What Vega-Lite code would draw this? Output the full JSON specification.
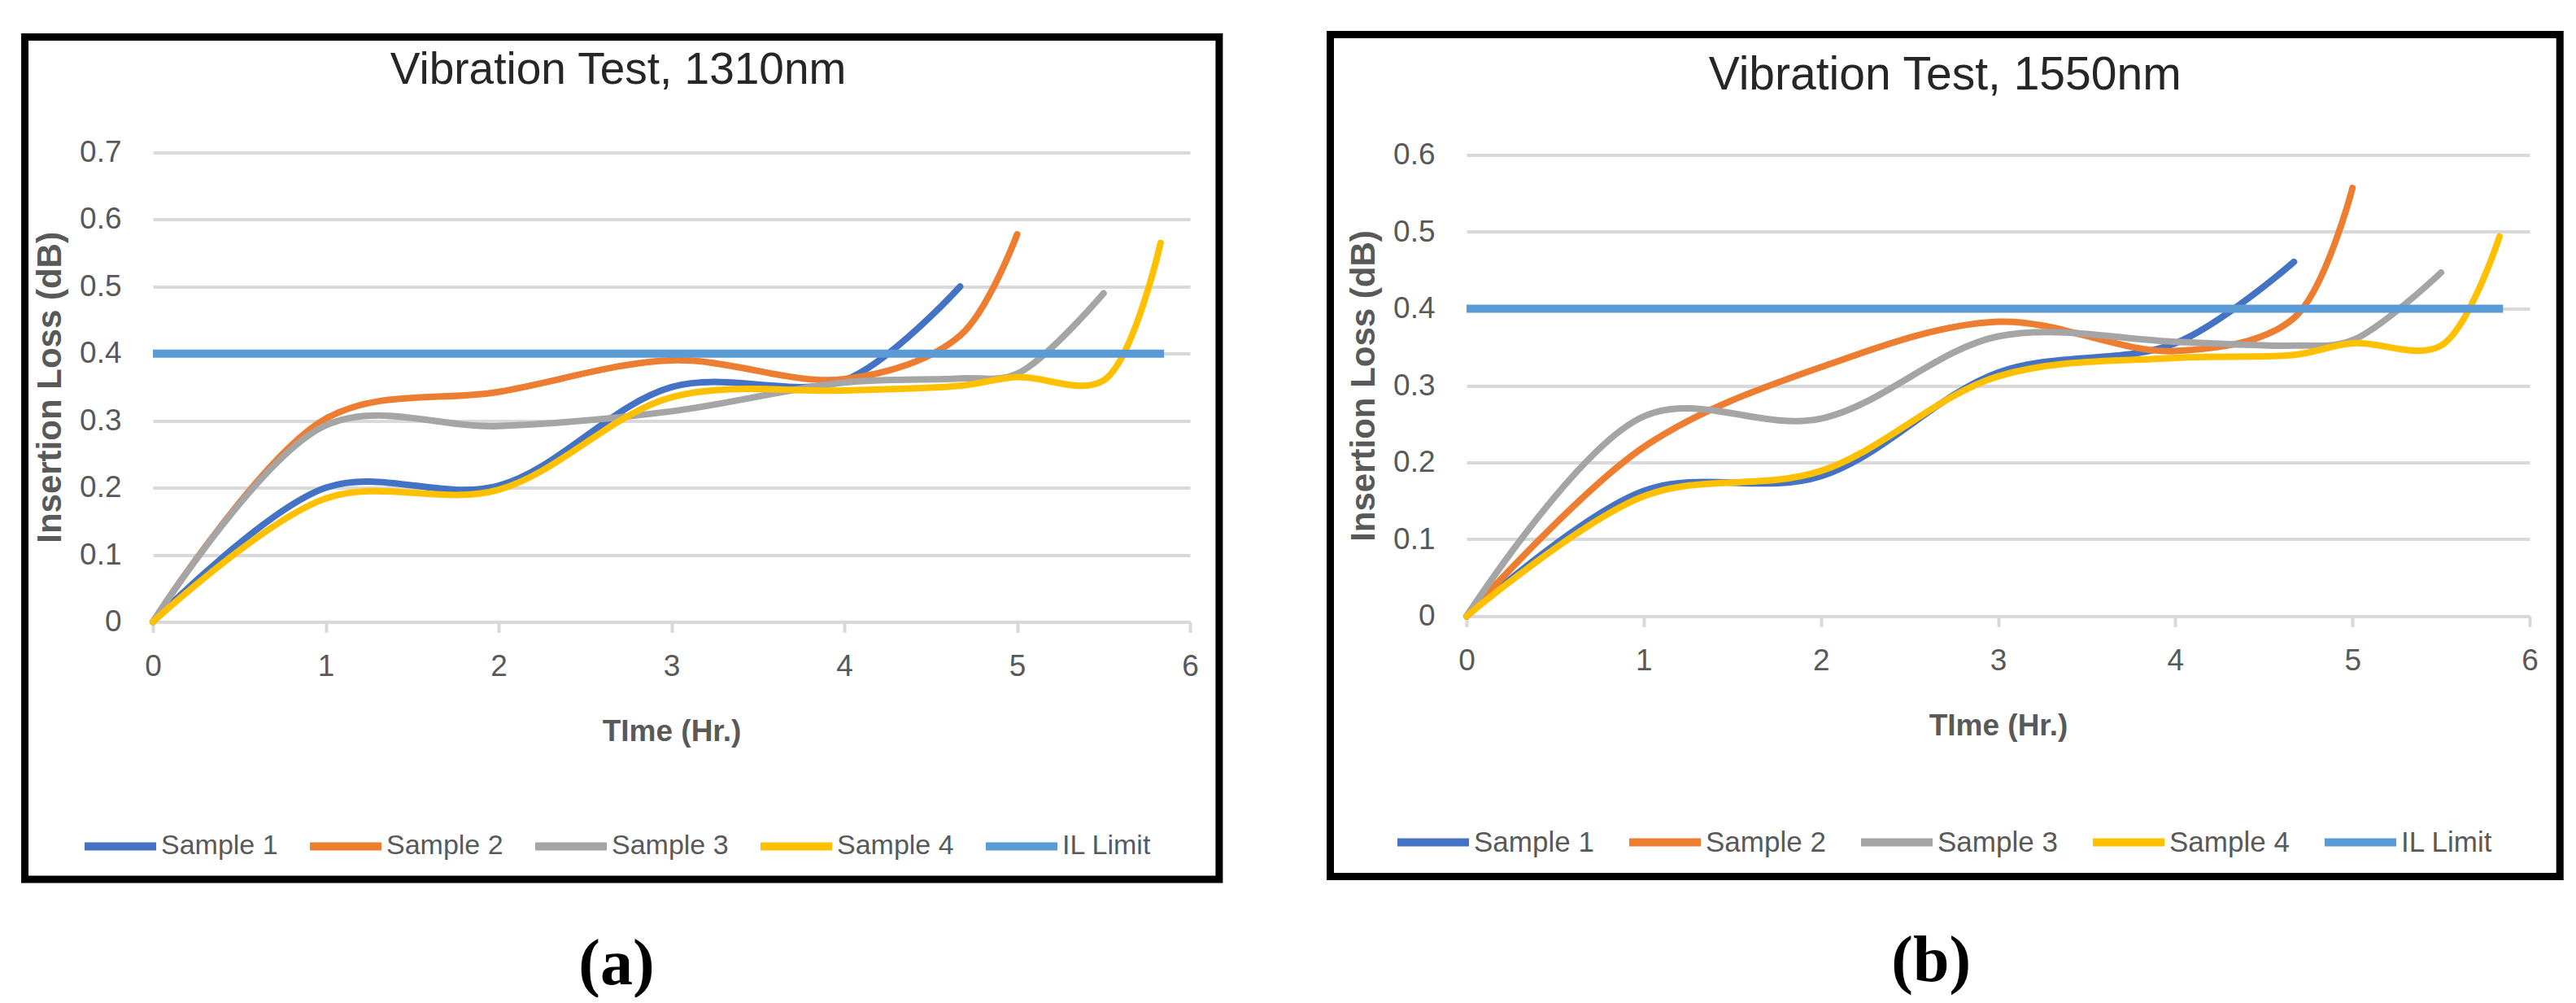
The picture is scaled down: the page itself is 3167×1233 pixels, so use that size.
{
  "$schema": "https://vega.github.io/schema/vega-lite/v6.json",
  "background": "white",
  "padding": {"left": 26, "top": 38, "right": 0, "bottom": 0},
  "datasets": {
    "s1310": [
      {"series": "Sample 1", "t": 0, "v": 0}, {"series": "Sample 1", "t": 1, "v": 0.2}, {"series": "Sample 1", "t": 2, "v": 0.203}, {"series": "Sample 1", "t": 3, "v": 0.35}, {"series": "Sample 1", "t": 4, "v": 0.36}, {"series": "Sample 1", "t": 4.67, "v": 0.5},
      {"series": "Sample 2", "t": 0, "v": 0}, {"series": "Sample 2", "t": 1, "v": 0.303}, {"series": "Sample 2", "t": 2, "v": 0.343}, {"series": "Sample 2", "t": 3, "v": 0.39}, {"series": "Sample 2", "t": 4, "v": 0.362}, {"series": "Sample 2", "t": 4.67, "v": 0.427}, {"series": "Sample 2", "t": 5, "v": 0.578},
      {"series": "Sample 3", "t": 0, "v": 0}, {"series": "Sample 3", "t": 1, "v": 0.293}, {"series": "Sample 3", "t": 2, "v": 0.292}, {"series": "Sample 3", "t": 3, "v": 0.314}, {"series": "Sample 3", "t": 4, "v": 0.357}, {"series": "Sample 3", "t": 4.67, "v": 0.363}, {"series": "Sample 3", "t": 5, "v": 0.37}, {"series": "Sample 3", "t": 5.5, "v": 0.49},
      {"series": "Sample 4", "t": 0, "v": 0}, {"series": "Sample 4", "t": 1, "v": 0.184}, {"series": "Sample 4", "t": 2, "v": 0.197}, {"series": "Sample 4", "t": 3, "v": 0.335}, {"series": "Sample 4", "t": 4, "v": 0.345}, {"series": "Sample 4", "t": 4.67, "v": 0.352}, {"series": "Sample 4", "t": 5, "v": 0.365}, {"series": "Sample 4", "t": 5.5, "v": 0.36}, {"series": "Sample 4", "t": 5.83, "v": 0.565}
    ],
    "il1310": [
      {"series": "IL Limit", "t": 0, "v": 0.4}, {"series": "IL Limit", "t": 5.85, "v": 0.4}
    ],
    "s1550": [
      {"series": "Sample 1", "t": 0, "v": 0}, {"series": "Sample 1", "t": 1, "v": 0.163}, {"series": "Sample 1", "t": 2, "v": 0.182}, {"series": "Sample 1", "t": 3, "v": 0.317}, {"series": "Sample 1", "t": 4, "v": 0.355}, {"series": "Sample 1", "t": 4.67, "v": 0.461},
      {"series": "Sample 2", "t": 0, "v": 0}, {"series": "Sample 2", "t": 1, "v": 0.22}, {"series": "Sample 2", "t": 2, "v": 0.324}, {"series": "Sample 2", "t": 3, "v": 0.383}, {"series": "Sample 2", "t": 4, "v": 0.345}, {"series": "Sample 2", "t": 4.67, "v": 0.388}, {"series": "Sample 2", "t": 5, "v": 0.557},
      {"series": "Sample 3", "t": 0, "v": 0}, {"series": "Sample 3", "t": 1, "v": 0.26}, {"series": "Sample 3", "t": 2, "v": 0.257}, {"series": "Sample 3", "t": 3, "v": 0.364}, {"series": "Sample 3", "t": 4, "v": 0.357}, {"series": "Sample 3", "t": 4.67, "v": 0.352}, {"series": "Sample 3", "t": 5, "v": 0.359}, {"series": "Sample 3", "t": 5.5, "v": 0.447},
      {"series": "Sample 4", "t": 0, "v": 0}, {"series": "Sample 4", "t": 1, "v": 0.156}, {"series": "Sample 4", "t": 2, "v": 0.189}, {"series": "Sample 4", "t": 3, "v": 0.312}, {"series": "Sample 4", "t": 4, "v": 0.336}, {"series": "Sample 4", "t": 4.67, "v": 0.34}, {"series": "Sample 4", "t": 5, "v": 0.355}, {"series": "Sample 4", "t": 5.5, "v": 0.352}, {"series": "Sample 4", "t": 5.83, "v": 0.494}
    ],
    "il1550": [
      {"series": "IL Limit", "t": 0, "v": 0.4}, {"series": "IL Limit", "t": 5.85, "v": 0.4}
    ]
  },
  "spacing": 126,
  "center": true,
  "hconcat": [
    {
      "width": 1275,
      "height": 577,
      "layer": [
        {
          "data": {"name": "s1310"},
          "mark": {"type": "line", "interpolate": "catmull-rom", "strokeWidth": 8, "strokeCap": "round"},
          "encoding": {
            "x": {"field": "t", "type": "quantitative", "scale": {"domain": [0, 6], "nice": false, "zero": false},
              "axis": {"title": "TIme (Hr.)", "values": [0, 1, 2, 3, 4, 5, 6], "format": "d"}},
            "y": {"field": "v", "type": "quantitative", "scale": {"domain": [0, 0.7], "nice": false},
              "axis": {"title": "Insertion Loss (dB)", "values": [0, 0.1, 0.2, 0.3, 0.4, 0.5, 0.6, 0.7], "format": "~g"}},
            "color": {"field": "series", "type": "nominal",
              "scale": {"domain": ["Sample 1", "Sample 2", "Sample 3", "Sample 4", "IL Limit"], "range": ["#4472C4", "#ED7D31", "#A5A5A5", "#FFC000", "#5B9BD5"]},
              "legend": {"orient": "none", "legendX": -89, "legendY": 804, "direction": "horizontal", "columns": 5, "title": null, "labelFontSize": 34, "columnPadding": 19}}
          }
        },
        {
          "data": {"name": "il1310"},
          "mark": {"type": "line", "strokeWidth": 10},
          "encoding": {
            "x": {"field": "t", "type": "quantitative"},
            "y": {"field": "v", "type": "quantitative"},
            "color": {"field": "series", "type": "nominal"}
          }
        },
        {
          "data": {"values": [{}]},
          "mark": {"type": "rect", "fill": "transparent", "stroke": "#000000", "strokeWidth": 9},
          "encoding": {
            "x": {"datum": -0.741, "type": "quantitative"},
            "x2": {"datum": 6.169},
            "y": {"datum": 0.8723, "type": "quantitative"},
            "y2": {"datum": -0.384}
          }
        },
        {
          "data": {"values": [{}]},
          "mark": {"type": "text", "text": "Vibration Test, 1310nm", "font": "Liberation Sans", "fontSize": 55, "align": "center", "baseline": "alphabetic", "color": "#262626"},
          "encoding": {
            "x": {"datum": 2.692, "type": "quantitative"},
            "y": {"datum": 0.8019, "type": "quantitative"}
          }
        },
        {
          "data": {"values": [{}]},
          "mark": {"type": "text", "text": "(a)", "font": "Liberation Serif", "fontSize": 80, "fontWeight": "bold", "align": "center", "baseline": "alphabetic", "color": "#000000"},
          "encoding": {
            "x": {"datum": 2.682, "type": "quantitative"},
            "y": {"datum": -0.54, "type": "quantitative"}
          }
        }
      ]
    },
    {
      "width": 1307,
      "height": 567,
      "layer": [
        {
          "data": {"name": "s1550"},
          "mark": {"type": "line", "interpolate": "catmull-rom", "strokeWidth": 8, "strokeCap": "round"},
          "encoding": {
            "x": {"field": "t", "type": "quantitative", "scale": {"domain": [0, 6], "nice": false, "zero": false},
              "axis": {"title": "TIme (Hr.)", "values": [0, 1, 2, 3, 4, 5, 6], "format": "d"}},
            "y": {"field": "v", "type": "quantitative", "scale": {"domain": [0, 0.6], "nice": false},
              "axis": {"title": "Insertion Loss (dB)", "values": [0, 0.1, 0.2, 0.3, 0.4, 0.5, 0.6], "format": "~g"}},
            "color": {"field": "series", "type": "nominal",
              "scale": {"domain": ["Sample 1", "Sample 2", "Sample 3", "Sample 4", "IL Limit"], "range": ["#4472C4", "#ED7D31", "#A5A5A5", "#FFC000", "#5B9BD5"]},
              "legend": {"orient": "none", "legendX": -90, "legendY": 796, "direction": "horizontal", "columns": 5, "title": null, "labelFontSize": 35, "columnPadding": 23}}
          }
        },
        {
          "data": {"name": "il1550"},
          "mark": {"type": "line", "strokeWidth": 10},
          "encoding": {
            "x": {"field": "t", "type": "quantitative"},
            "y": {"field": "v", "type": "quantitative"},
            "color": {"field": "series", "type": "nominal"}
          }
        },
        {
          "data": {"values": [{}]},
          "mark": {"type": "rect", "fill": "transparent", "stroke": "#000000", "strokeWidth": 9},
          "encoding": {
            "x": {"datum": -0.769, "type": "quantitative"},
            "x2": {"datum": 6.171},
            "y": {"datum": 0.7566, "type": "quantitative"},
            "y2": {"datum": -0.3386}
          }
        },
        {
          "data": {"values": [{}]},
          "mark": {"type": "text", "text": "Vibration Test, 1550nm", "font": "Liberation Sans", "fontSize": 57, "align": "center", "baseline": "alphabetic", "color": "#262626"},
          "encoding": {
            "x": {"datum": 2.7, "type": "quantitative"},
            "y": {"datum": 0.6857, "type": "quantitative"}
          }
        },
        {
          "data": {"values": [{}]},
          "mark": {"type": "text", "text": "(b)", "font": "Liberation Serif", "fontSize": 80, "fontWeight": "bold", "align": "center", "baseline": "alphabetic", "color": "#000000"},
          "encoding": {
            "x": {"datum": 2.622, "type": "quantitative"},
            "y": {"datum": -0.4751, "type": "quantitative"}
          }
        }
      ]
    }
  ],
  "resolve": {"scale": {"color": "independent"}},
  "config": {
    "view": {"stroke": null},
    "axisX": {
      "grid": false, "domainColor": "#D9D9D9", "domainWidth": 4, "tickColor": "#D9D9D9", "tickWidth": 4, "tickSize": 13,
      "labelFont": "Liberation Sans", "labelFontSize": 37, "labelColor": "#595959", "labelPadding": 24, "labelFlush": false, "labelOverlap": false,
      "titleFont": "Liberation Sans", "titleFontSize": 37, "titleFontWeight": "bold", "titleColor": "#595959", "titlePadding": 44
    },
    "axisY": {
      "domain": false, "ticks": false, "grid": true, "gridColor": "#D9D9D9", "gridWidth": 4,
      "labelFont": "Liberation Sans", "labelFontSize": 37, "labelColor": "#595959", "labelPadding": 39, "labelFlush": false, "labelOverlap": false,
      "titleFont": "Liberation Sans", "titleFontSize": 42, "titleFontWeight": "bold", "titleColor": "#595959", "titlePadding": 14
    },
    "legend": {
      "symbolType": "stroke", "symbolSize": 7744, "symbolStrokeWidth": 10,
      "labelFont": "Liberation Sans", "labelColor": "#595959", "labelOffset": 1, "labelLimit": 400
    }
  }
}
